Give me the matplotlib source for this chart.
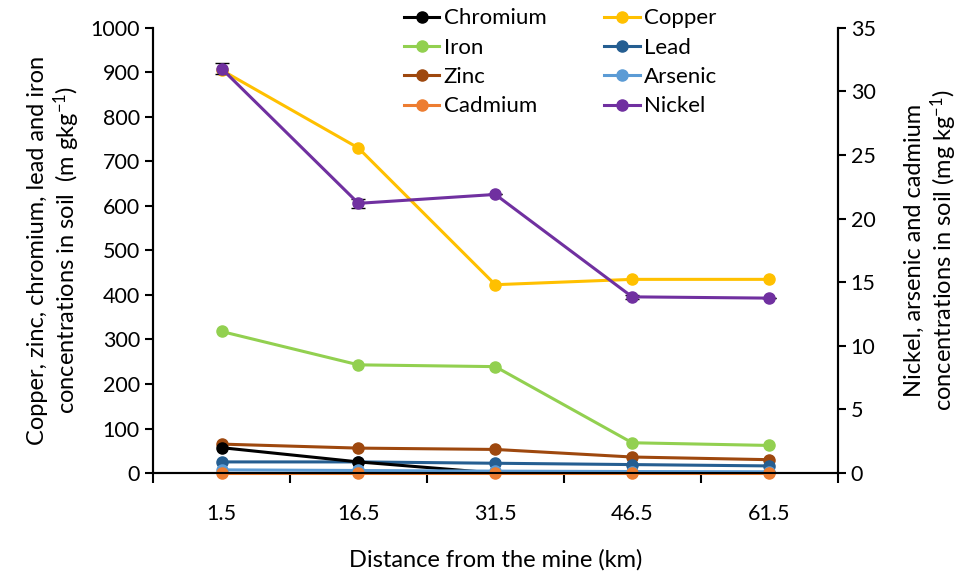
import matplotlib
matplotlib.use("Agg")
from matplotlib import pyplot as plt
import numpy as np

plt.rcParams['font.family'] = ['Lato', 'DejaVu Sans']
plt.rcParams['mathtext.fontset'] = 'custom'
plt.rcParams['mathtext.rm'] = 'Lato'
plt.rcParams['mathtext.it'] = 'Lato:italic'

# distances from the mine (km), drawn as categories
distances = ["1.5", "16.5", "31.5", "46.5", "61.5"]

# left axis metals (mg/kg)
chromium = [57, 25, 0, 0, 0]
copper = [905, 730, 423, 435, 435]
iron = [318, 243, 239, 68, 62]
lead = [25, 25, 22, 19, 16]
zinc = [65, 56, 53, 36, 30]

# right axis metals (mg/kg)
arsenic = [0.25, 0.2, 0.15, 0.12, 0.1]
cadmium = [0.03, 0.03, 0.03, 0.03, 0.03]
nickel = [31.8, 21.2, 21.9, 13.85, 13.75]
nickel_err = [0.45, 0.35, 0.0, 0.15, 0.0]

colors = {
    "Chromium": "#000000", "Copper": "#FFC000", "Iron": "#92D050",
    "Lead": "#255E91", "Zinc": "#9E480E", "Arsenic": "#5B9BD5",
    "Cadmium": "#ED7D31", "Nickel": "#7030A0",
}

x = np.arange(len(distances))

fig = plt.figure(figsize=(9.75, 5.79), dpi=100)
ax = fig.add_axes([0.157, 0.183, 0.702, 0.769])
ax2 = ax.twinx()

lw, ms = 2.2, 8
handles = {}
for name, vals in [("Copper", copper), ("Iron", iron), ("Zinc", zinc),
                   ("Lead", lead), ("Chromium", chromium)]:
    h, = ax.plot(x, vals, color=colors[name], lw=lw, marker="o", ms=ms, label=name)
    handles[name] = h

for name, vals in [("Arsenic", arsenic), ("Cadmium", cadmium)]:
    h, = ax2.plot(x, vals, color=colors[name], lw=lw, marker="o", ms=ms, label=name,
                  clip_on=False)
    handles[name] = h

ax2.errorbar(x, nickel, yerr=nickel_err, fmt="none", ecolor="black", elinewidth=1, capsize=5)
h, = ax2.plot(x, nickel, color=colors["Nickel"], lw=lw, marker="o", ms=ms, label="Nickel")
handles["Nickel"] = h

ax.set_xlim(-0.5, len(distances) - 0.5)
ax.set_ylim(0, 1000)
ax2.set_ylim(0, 35)
ax.set_yticks(np.arange(0, 1001, 100))
ax2.set_yticks(np.arange(0, 36, 5))

ax.set_xticks(x)
ax.set_xticklabels(distances)
ax.set_xticks(np.arange(-0.5, len(distances), 1), minor=True)
ax.tick_params(axis="x", which="major", length=0, pad=22, labelsize=15.5)
ax.tick_params(axis="x", which="minor", length=7, width=1.5, direction="out")
ax.tick_params(axis="y", length=6, width=1.5, direction="out", labelsize=15.5)
ax2.tick_params(axis="y", length=6, width=1.5, direction="out", labelsize=15.5)

for a in (ax, ax2):
    a.spines["top"].set_visible(False)
    for s in ("left", "right", "bottom"):
        a.spines[s].set_linewidth(1.5)

ax.set_xlabel("Distance from the mine (km)", fontsize=17, labelpad=18)
ax.set_ylabel("Copper, zinc, chromium, lead and iron\nconcentrations in soil  (m gkg$^{-1}$)",
              fontsize=17, labelpad=6, linespacing=1.15)
ax2.set_ylabel("Nickel, arsenic and cadmium\nconcentrations in soil (mg kg$^{-1}$)",
               fontsize=17, labelpad=20, linespacing=1.15)

order = ["Chromium", "Iron", "Zinc", "Cadmium", "Copper", "Lead", "Arsenic", "Nickel"]
fig.legend([handles[n] for n in order], order, loc="upper center",
           bbox_to_anchor=(0.575, 1.02), ncol=2, frameon=False, fontsize=16,
           handlelength=1.6, handletextpad=0.2, columnspacing=2.6, labelspacing=0.42)

fig.savefig("out.png", dpi=100)
